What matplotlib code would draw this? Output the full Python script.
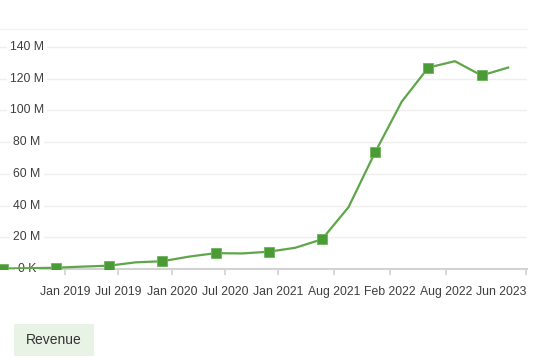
import matplotlib
matplotlib.use("Agg")
import matplotlib.pyplot as plt
from matplotlib.transforms import blended_transform_factory
from matplotlib.patches import FancyBboxPatch

plt.rcParams['font.family'] = ['Liberation Sans', 'DejaVu Sans']

# Data (revenue in millions), one value per period
revenue_m = [0.3, 0.5, 0.8, 1.5, 2.1, 4.2, 4.9, 7.8, 10.0, 9.8,
             10.9, 13.4, 18.7, 39.0, 73.6, 105.5, 127.0, 131.0, 122.0, 127.0]
tick_pos = [2.34, 4.33, 6.36, 8.35, 10.35, 12.45, 14.56, 16.66, 19.67]
tick_labels = ["Jan 2019", "Jul 2019", "Jan 2020", "Jul 2020", "Jan 2021",
               "Aug 2021", "Feb 2022", "Aug 2022", "Jun 2023"]
y_ticks = [0, 20, 40, 60, 80, 100, 120, 140]
y_labels = ["0 K", "20 M", "40 M", "60 M", "80 M", "100 M", "120 M", "140 M"]
series_name = "Revenue"

W, H = 538, 360
fig = plt.figure(figsize=(W / 100, H / 100), dpi=100)
ax = fig.add_axes([0, (H - 269) / H, 527 / W, (269 - 29) / H])

x = list(range(len(revenue_m)))
line_c = "#5fa64a"
mark_c = "#4a9a35"

ax.set_xlim(-0.105, 19.71)
ax.set_ylim(0, 151.3)

for v in y_ticks[1:]:
    ax.axhline(v, color="#efefef", lw=1.0, zorder=1)

ax.plot(x, revenue_m, color=line_c, lw=1.6, zorder=5, solid_joinstyle="round")
ax.plot(x[::2], revenue_m[::2], ls="none", marker="s", ms=7,
        mfc=mark_c, mec="#6cb55a", mew=0.6, zorder=6)

for s in ["left", "right"]:
    ax.spines[s].set_visible(False)
ax.spines["top"].set_color("#f3f3f3")
ax.spines["top"].set_linewidth(1.0)
ax.spines["bottom"].set_color("#d2d2d2")
ax.spines["bottom"].set_linewidth(1.5)

ax.set_yticks([])
ax.set_xticks(tick_pos)
ax.set_xticklabels(tick_labels, fontsize=8.8, color="#3f3f3f")
ax.get_xticklabels()[-1].set_ha("right")
ax.tick_params(axis="x", length=4.5, width=1.2, color="#d2d2d2", pad=8)

trans = blended_transform_factory(ax.transAxes, ax.transData)
for v, lab in zip(y_ticks, y_labels):
    ax.text(27 / 527, v, lab, transform=trans, ha="center", va="center",
            fontsize=8.8, color="#3f3f3f", zorder=3,
            bbox=dict(boxstyle="square,pad=0.25", fc="white", ec="none"))

# Legend-like label box
fig.patches.append(FancyBboxPatch((14 / W, (H - 356) / H), 80 / W, 32 / H,
                                  boxstyle="square,pad=0", fc="#e8f2e5", ec="none",
                                  transform=fig.transFigure, figure=fig))
fig.text(54 / W, (H - 340) / H, series_name, ha="center", va="center",
         fontsize=10, color="#333333")

fig.savefig("out.png", dpi=100)
